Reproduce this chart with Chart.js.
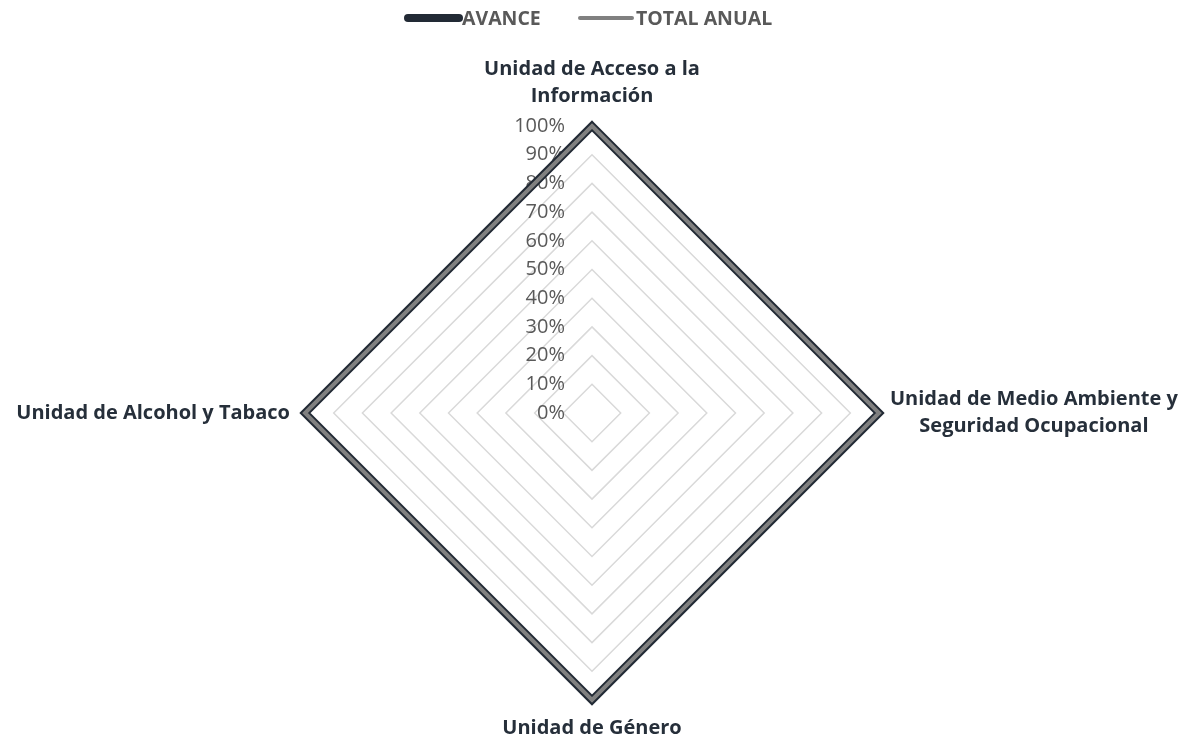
<!DOCTYPE html>
<html>
<head>
<meta charset="utf-8">
<script src="https://cdn.jsdelivr.net/npm/chart.js@4.4.1/dist/chart.umd.min.js"></script>
<style>
  html, body { margin: 0; padding: 0; background: #fff; }
  #wrap { width: 1186px; height: 737px; }
</style>
</head>
<body>
<div id="wrap"><canvas id="chart" width="1186" height="737"></canvas></div>
<script>
// categories (one per spoke, split into lines as in the original)
const categories = [
  ['Unidad de Acceso a la', 'Información'],
  ['Unidad de Medio Ambiente y', 'Seguridad Ocupacional'],
  ['Unidad de Género'],
  ['Unidad de Alcohol y Tabaco']
];
const avance = [1, 1, 1, 1];
const totalAnual = [1, 1, 1, 1];
const tickValues = [0, 0.1, 0.2, 0.3, 0.4, 0.5, 0.6, 0.7, 0.8, 0.9, 1];
const seriesNames = ['AVANCE', 'TOTAL ANUAL'];

const DARK = '#222a35';
const GREY = '#808080';
const LABEL = '#262f3a';
const TICK = '#595959';

const pct = v => Math.round(v * 100) + '%';

// tick labels, point labels and legend drawn by hand to match the Excel layout
const decor = {
  id: 'decor',
  beforeDatasetsDraw(chart) {
    const s = chart.scales.r;
    const ctx = chart.ctx;
    ctx.save();
    ctx.font = '20px "Open Sans", sans-serif';
    ctx.fillStyle = TICK;
    ctx.textAlign = 'right';
    ctx.textBaseline = 'middle';
    tickValues.forEach(v => {
      const d = s.getDistanceFromCenterForValue(v);
      ctx.fillText(pct(v), s.xCenter - 27, s.yCenter - d);
    });
    ctx.restore();
  },
  afterDraw(chart) {
    const s = chart.scales.r;
    const ctx = chart.ctx;
    const r = s.drawingArea;
    ctx.save();
    ctx.font = 'bold 20px "Open Sans", sans-serif';
    ctx.fillStyle = LABEL;
    ctx.textBaseline = 'middle';
    const lh = 27;
    // top
    ctx.textAlign = 'center';
    let p = s.getPointPosition(0, r + 30);
    categories[0].forEach((t, i) => ctx.fillText(t, p.x, p.y - lh * (categories[0].length - 1 - i)));
    // right
    p = s.getPointPosition(1, r + 11);
    const wR = Math.max(...categories[1].map(t => ctx.measureText(t).width));
    categories[1].forEach((t, i) => ctx.fillText(t, p.x + wR / 2, p.y - 14 + lh * i));
    // bottom
    p = s.getPointPosition(2, r + 28);
    categories[2].forEach((t, i) => ctx.fillText(t, p.x, p.y + lh * i));
    // left
    ctx.textAlign = 'right';
    p = s.getPointPosition(3, r + 15);
    categories[3].forEach((t, i) => ctx.fillText(t, p.x, p.y + lh * i));

    // legend
    ctx.font = 'bold 19.5px "Open Sans", sans-serif';
    ctx.fillStyle = TICK;
    ctx.textAlign = 'left';
    ctx.lineCap = 'round';
    const y = 18;
    ctx.strokeStyle = DARK; ctx.lineWidth = 8;
    ctx.beginPath(); ctx.moveTo(408, y); ctx.lineTo(459, y); ctx.stroke();
    ctx.fillText(seriesNames[0], 462, y + 1);
    ctx.strokeStyle = GREY; ctx.lineWidth = 4;
    ctx.beginPath(); ctx.moveTo(580, y); ctx.lineTo(632, y); ctx.stroke();
    ctx.fillText(seriesNames[1], 636, y + 1);
    ctx.restore();
  }
};

new Chart(document.getElementById('chart'), {
  type: 'radar',
  data: {
    labels: categories,
    datasets: [
      {
        label: seriesNames[0],
        data: avance,
        borderColor: DARK,
        borderWidth: 8,
        backgroundColor: 'transparent',
        pointRadius: 0,
        fill: false,
        order: 2
      },
      {
        label: seriesNames[1],
        data: totalAnual,
        borderColor: GREY,
        borderWidth: 4,
        backgroundColor: 'transparent',
        pointRadius: 0,
        fill: false,
        order: 1
      }
    ]
  },
  options: {
    responsive: false,
    animation: false,
    layout: { padding: { top: 40, bottom: 0, left: 0, right: 0 } },
    plugins: { legend: { display: false }, tooltip: { enabled: false } },
    elements: { line: { tension: 0, borderJoinStyle: 'miter' } },
    scales: {
      r: {
        min: 0,
        max: 1,
        ticks: { stepSize: 0.1, display: false },
        grid: { color: '#d9d9d9', lineWidth: 1.5 },
        angleLines: { display: false },
        pointLabels: { display: false },
        afterFit(scale) {
          scale.xCenter = 592;
          scale.yCenter = 413;
          scale.drawingArea = 287;
        }
      }
    }
  },
  plugins: [decor]
});
</script>
</body>
</html>
